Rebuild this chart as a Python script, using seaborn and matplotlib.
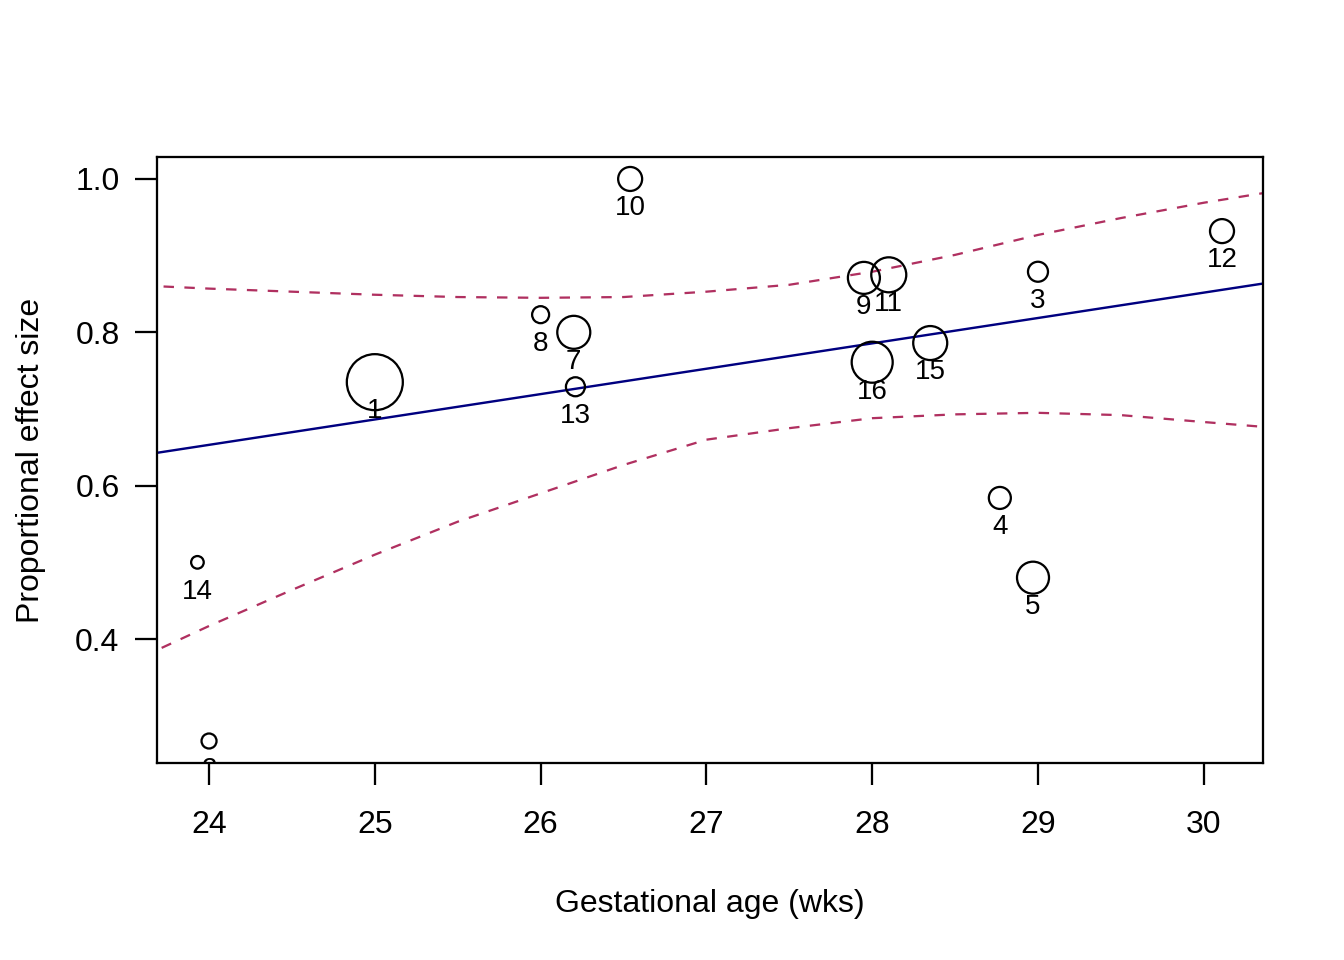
import matplotlib
matplotlib.use("Agg")
import matplotlib.pyplot as plt
import seaborn as sns
import pandas as pd

# studies: gestational age, proportional effect, relative weight (symbol radius)
study = ["1", "2", "3", "4", "5", "7", "8", "9", "10", "11", "12", "13", "14", "15", "16"]
ga_wks = [25.0, 24.0, 29.0, 28.77, 28.97, 26.2, 26.0, 27.95, 26.54, 28.1, 30.11, 26.21, 23.93, 28.35, 28.0]
effect = [0.735, 0.267, 0.879, 0.584, 0.480, 0.800, 0.823, 0.871, 1.0, 0.875, 0.932, 0.729, 0.50, 0.786, 0.761]
weight = [28, 7.5, 10, 11, 16, 16.5, 8.5, 16, 12, 17.5, 12, 9.5, 6.3, 17, 20.5]

# fitted meta-regression line
fit_x = [23.6, 30.4]
fit_y = [0.640, 0.865]

# confidence band
band_x = [23.6, 24.0, 24.5, 25.0, 25.5, 26.0, 26.5, 27.0, 27.5, 28.0, 28.5, 29.0, 29.5, 30.0, 30.4]
band_upper = [0.861, 0.857, 0.853, 0.849, 0.846, 0.845, 0.846, 0.853, 0.862, 0.879, 0.901, 0.927, 0.949, 0.969, 0.983]
band_lower = [0.377, 0.417, 0.464, 0.510, 0.553, 0.590, 0.627, 0.660, 0.675, 0.688, 0.693, 0.695, 0.692, 0.683, 0.676]

sns.set_style("white")
plt.rcParams["font.family"] = ["Liberation Sans", "DejaVu Sans"]
plt.rcParams["text.color"] = "black"
plt.rcParams["axes.labelcolor"] = "black"
plt.rcParams["xtick.color"] = "black"
plt.rcParams["ytick.color"] = "black"

df = pd.DataFrame({"ga": ga_wks, "eff": effect, "w": weight, "study": study})

fig = plt.figure(figsize=(7, 5), dpi=192)
ax = fig.add_axes([0.1168, 0.2052, 0.8229, 0.6313])

# circles sized by study weight
sizes = [(0.75 * w) ** 2 for w in df["w"]]
sns.scatterplot(data=df, x="ga", y="eff", s=sizes, facecolor="none",
                edgecolor="black", linewidth=0.85, ax=ax, legend=False, zorder=3)

for _, r in df.iterrows():
    ax.annotate(r["study"], (r["ga"], r["eff"]), xytext=(0, -11),
                textcoords="offset points", ha="center", va="center",
                fontsize=10.4, color="black", clip_on=True, annotation_clip=False)

sns.lineplot(x=fit_x, y=fit_y, color="#000080", linewidth=0.9, ax=ax, sort=False)
sns.lineplot(x=band_x, y=band_upper, color="#B03060", linewidth=0.85, ax=ax,
             sort=False, linestyle=(0, (4.6, 4.6)))
sns.lineplot(x=band_x, y=band_lower, color="#B03060", linewidth=0.85, ax=ax,
             sort=False, linestyle=(0, (4.6, 4.6)))

ax.set_xlim(23.686, 30.357)
ax.set_ylim(0.2383, 1.0287)
ax.set_xticks([24, 25, 26, 27, 28, 29, 30])
ax.set_yticks([0.4, 0.6, 0.8, 1.0])
ax.set_yticklabels(["0.4", "0.6", "0.8", "1.0"])

for sp in ax.spines.values():
    sp.set_color("black")
    sp.set_linewidth(0.85)

ax.tick_params(axis="both", which="major", direction="out", length=8.25,
               width=0.85, color="black", labelcolor="black", labelsize=12,
               bottom=True, left=True)
ax.tick_params(axis="x", pad=9.3)
ax.tick_params(axis="y", pad=5.8)

ax.set_xlabel("Gestational age (wks)", fontsize=12, labelpad=18.5)
ax.set_ylabel("Proportional effect size", fontsize=12, labelpad=11)

fig.savefig("out.png", dpi=192, facecolor="white")
